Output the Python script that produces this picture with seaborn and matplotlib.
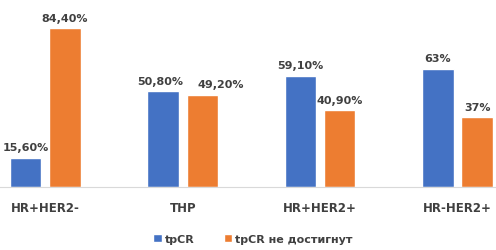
import matplotlib

matplotlib.use("Agg")
import matplotlib.pyplot as plt  # noqa: E402
import pandas as pd  # noqa: E402
import seaborn as sns  # noqa: E402

GROUPS = ["HR+HER2-", "THP", "HR+HER2+", "HR-HER2+"]
SERIES = ["tpCR", "tpCR не достигнут"]
TPCR = [15.6, 50.8, 59.1, 63.0]
NO_TPCR = [84.4, 49.2, 40.9, 37.0]
LABELS_TPCR = ["15,60%", "50,80%", "59,10%", "63%"]
LABELS_NO = ["84,40%", "49,20%", "40,90%", "37%"]
COLORS = ["#4472C4", "#ED7D31"]

df = pd.DataFrame({
    "group": GROUPS * 2,
    "series": [SERIES[0]] * 4 + [SERIES[1]] * 4,
    "value": TPCR + NO_TPCR,
})

sns.set_style("white")
plt.rcParams["font.family"] = ["DejaVu Sans"]
FS = 8

fig = plt.figure(figsize=(4.96, 2.51), dpi=100)
ax = fig.add_axes([0, 0.251, 1, 0.749])
sns.barplot(data=df, x="group", y="value", hue="series", palette=COLORS,
            width=0.57, gap=0.2, ax=ax, saturation=1)

texts = []
for cont, labels in zip(ax.containers, [LABELS_TPCR, LABELS_NO]):
    texts.append(ax.bar_label(cont, labels=labels, padding=4, fontsize=FS,
                              fontweight="bold", color="#404040"))

# THP labels sit side by side in the original; nudge them apart
texts[0][1].xyann = (-2, 4)
texts[1][1].xyann = (13, 4)

ax.set_ylim(0, 100)
ax.set_xlim(-0.33, 3.28)
ax.set_xlabel("")
ax.set_ylabel("")
ax.set_yticks([])
for side in ("top", "right", "left"):
    ax.spines[side].set_visible(False)
ax.spines["bottom"].set_color("#d9d9d9")
ax.tick_params(axis="x", length=0, pad=10, labelsize=8.5, labelcolor="#404040")
for t in ax.get_xticklabels():
    t.set_fontweight("bold")

handles, _ = ax.get_legend_handles_labels()
ax.legend(handles, SERIES, loc="lower center", bbox_to_anchor=(0.51, -0.015),
          bbox_transform=fig.transFigure, ncol=2, frameon=False,
          handlelength=0.75, handleheight=0.75,
          handletextpad=0.3, columnspacing=2.6,
          prop={"weight": "bold", "size": FS})
for t in ax.get_legend().get_texts():
    t.set_color("#404040")

fig.savefig("out.png", dpi=100)
